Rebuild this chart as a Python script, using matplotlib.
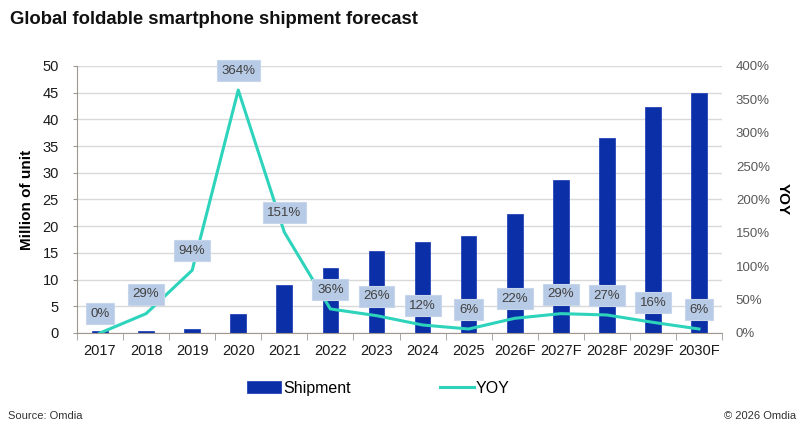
import numpy as np
import matplotlib
matplotlib.use('Agg')
import matplotlib.pyplot as plt
from matplotlib.ticker import FuncFormatter

plt.rcParams['font.family'] = ['Liberation Sans', 'DejaVu Sans']

# Data
years = ['2017', '2018', '2019', '2020', '2021', '2022', '2023', '2024', '2025',
         '2026F', '2027F', '2028F', '2029F', '2030F']
shipment = [0.3, 0.4, 0.8, 3.6, 9.0, 12.2, 15.4, 17.1, 18.2, 22.2, 28.7, 36.5, 42.3, 44.9]
yoy = [0, 29, 94, 364, 151, 36, 26, 12, 6, 22, 29, 27, 16, 6]

bar_color = '#0B2FA6'
line_color = '#2DD3BB'


def main():
    fig = plt.figure(figsize=(8, 4.4), dpi=100)
    ax = fig.add_axes([0.09625, 0.2432, 0.80625, 0.6068])
    ax2 = ax.twinx()

    x = np.arange(len(years))

    # Bars on the left axis
    ax.bar(x, shipment, width=0.34, color=bar_color, edgecolor='#2746B8',
           linewidth=0.6, zorder=2, label='Shipment')
    ax.set_xlim(-0.5, len(years) - 0.5)
    ax.set_ylim(0, 50)
    ax.set_yticks(np.arange(0, 51, 5))
    ax.set_xticks(x)
    ax.set_xticklabels(years, fontsize=10.5, color='#1a1a1a')
    ax.tick_params(axis='y', labelsize=10.5, labelcolor='#1a1a1a', length=3,
                   color='#A09890', pad=10)
    ax.tick_params(axis='x', length=0, pad=8)
    # Tick marks between categories on the bottom axis
    ax.set_xticks(np.arange(-0.5, len(years), 1), minor=True)
    ax.tick_params(axis='x', which='minor', length=5, color='#A09890')
    ax.grid(axis='y', color='#D9D9D9', linewidth=1, zorder=0)
    ax.set_axisbelow(True)
    for side in ['top', 'right']:
        ax.spines[side].set_visible(False)
    ax.spines['left'].set_color('#A09890')
    ax.spines['bottom'].set_color('#A09890')
    ax.set_ylabel('Million of unit', fontsize=11, fontweight='bold', labelpad=6)

    # YOY line on the right axis
    ax2.plot(x, yoy, color=line_color, linewidth=2.2, zorder=3, label='YOY')
    ax2.set_ylim(0, 400)
    ax2.set_yticks(np.arange(0, 401, 50))
    ax2.yaxis.set_major_formatter(FuncFormatter(lambda v, p: f'{v:.0f}%'))
    ax2.tick_params(axis='y', labelsize=9.5, labelcolor='#595959', length=0, pad=10)
    for side in ['top', 'right', 'left', 'bottom']:
        ax2.spines[side].set_visible(False)
    ax2.set_ylabel('YOY', fontsize=11, fontweight='bold', rotation=-90, labelpad=14)

    # Data labels with boxes
    for xi, v in zip(x, yoy):
        ax2.annotate(f'{v}%', (xi, v), xytext=(0, 14), textcoords='offset points',
                     ha='center', va='center', fontsize=9.5, color='#404040',
                     bbox=dict(boxstyle='square,pad=0.35', facecolor='#B8CBE6',
                               edgecolor='#C8D6EC', linewidth=0.8),
                     zorder=5)

    # Legend
    h1, l1 = ax.get_legend_handles_labels()
    h2, l2 = ax2.get_legend_handles_labels()
    fig.legend(h1 + h2, l1 + l2, loc='center', bbox_to_anchor=(0.473, 0.118),
               ncol=2, frameon=False, fontsize=11.5, handlelength=2.1,
               handleheight=0.75, handletextpad=0.15, columnspacing=5.6)

    # Title and footer
    fig.text(0.012, 0.955, 'Global foldable smartphone shipment forecast',
             fontsize=13.3, fontweight='bold', ha='left', va='center', color='#111111')
    fig.text(0.01, 0.055, 'Source: Omdia', fontsize=8, ha='left', va='center', color='#333333')
    fig.text(0.995, 0.055, '\u00a9 2026 Omdia', fontsize=8, ha='right', va='center',
             color='#333333')

    fig.savefig('out.png', dpi=100)


if __name__ == '__main__':
    main()
